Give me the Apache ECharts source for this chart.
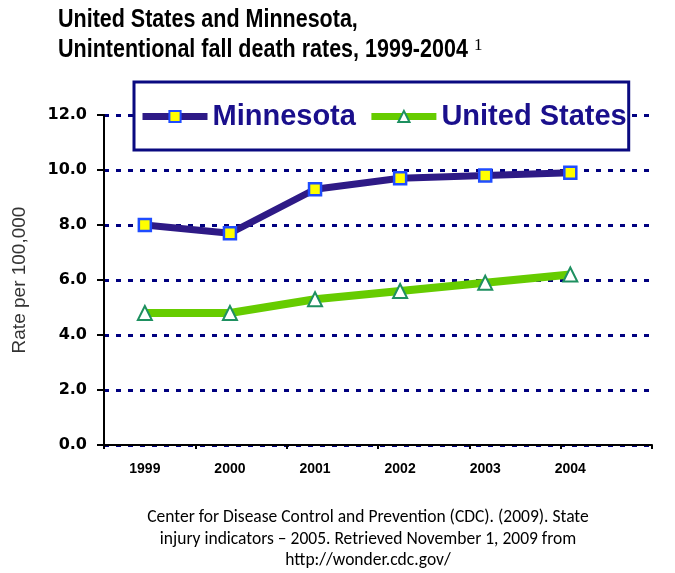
<!DOCTYPE html>
<html><head><meta charset="utf-8">
<script src="https://cdn.jsdelivr.net/npm/echarts@6/dist/echarts.min.js"></script>
<style>html,body{margin:0;padding:0;background:#fff}#c{width:675px;height:573px}</style>
</head><body><div id="c"></div>
<script>
var years = ['1999', '2000', '2001', '2002', '2003', '2004'];
var minnesota = [8.0, 7.7, 9.3, 9.7, 9.8, 9.9];
var unitedStates = [4.8, 4.8, 5.3, 5.6, 5.9, 6.2];
var titleLines = ['United States and Minnesota,', 'Unintentional fall death rates, 1999-2004'];
var footnote = 'Center for Disease Control and Prevention (CDC). (2009). State\ninjury indicators \u2013 2005. Retrieved November 1, 2009 from\nhttp://wonder.cdc.gov/';

var chart = echarts.init(document.getElementById('c'));
var titleFont = "bold 25px 'Liberation Sans', Arial, sans-serif";
chart.setOption({
  animation: false,
  backgroundColor: '#fff',
  graphic: [
    { type: 'text', x: 58, y: 8, scaleX: 0.86, z: 10,
      style: { text: titleLines[0], font: titleFont, fill: '#000', verticalAlign: 'top' } },
    { type: 'text', x: 58, y: 38, scaleX: 0.86, z: 10,
      style: { text: titleLines[1], font: titleFont, fill: '#000', verticalAlign: 'top' } },
    { type: 'text', x: 474, y: 37, z: 10,
      style: { text: '1', font: "17px 'Liberation Serif', serif", fill: '#000', verticalAlign: 'top' } }
  ],
  title: [{
    text: footnote,
    left: 363, top: 502, textAlign: 'center',
    textStyle: { fontFamily: "Carlito,Lato,sans-serif", fontWeight: 'normal', fontSize: 17.5, lineHeight: 21.5, color: '#000' }
  }],
  legend: {
    left: 134, top: 82,
    padding: [20, 2, 19, 5],
    backgroundColor: '#fff',
    borderColor: '#0a0a80', borderWidth: 3, borderRadius: 0,
    itemWidth: 65, itemHeight: 14, itemGap: 12,
    textStyle: { fontFamily: 'Liberation Sans, Arial, sans-serif', fontWeight: 'bold', fontSize: 29, color: '#1a0f8c' },
    data: [
      { name: 'Minnesota', lineStyle: { width: 7 } },
      { name: 'United States', lineStyle: { width: 7 } }
    ]
  },
  grid: { left: 104, right: 23, top: 115, bottom: 128, containLabel: false },
  xAxis: [{
    type: 'category', data: years, boundaryGap: true, position: 'bottom',
    axisLine: { show: true, lineStyle: { color: '#000', width: 2 } },
    axisTick: { show: true, length: 4, lineStyle: { color: '#000', width: 2 } },
    axisLabel: { show: false },
    splitLine: { show: false }
  }, {
    type: 'value', min: -0.48, max: 5.96, position: 'bottom',
    axisLine: { show: false }, axisTick: { show: false }, splitLine: { show: false },
    axisLabel: {
      show: true, customValues: [0, 1, 2, 3, 4, 5], margin: 17,
      formatter: function (v) { return years[Math.round(v)]; },
      fontFamily: 'Liberation Sans, Arial, sans-serif', fontWeight: 'bold', fontSize: 14, color: '#000'
    }
  }],
  yAxis: {
    type: 'value', min: 0, max: 12, interval: 2,
    name: 'Rate per 100,000', nameLocation: 'middle', nameGap: 75,
    nameTextStyle: { fontFamily: 'Liberation Sans, Arial, sans-serif', fontSize: 19, color: '#333' },
    axisLine: { show: true, onZero: false, lineStyle: { color: '#000', width: 2 } },
    axisTick: { show: true, length: 7, lineStyle: { color: '#000', width: 2 } },
    axisLabel: {
      margin: 17, formatter: function (v) { return v.toFixed(1); },
      fontFamily: 'DejaVu Sans, sans-serif', fontWeight: 'bold', fontSize: 16, color: '#000'
    },
    splitLine: { show: true, lineStyle: { color: '#000080', width: 3, type: [5, 7] } }
  },
  series: [{
    name: 'Minnesota', type: 'line', xAxisIndex: 1,
    data: minnesota.map(function (v, i) { return [i, v]; }),
    symbol: 'rect', symbolSize: 12,
    lineStyle: { color: '#2e1a86', width: 7 },
    itemStyle: { color: '#ffff00', borderColor: '#1f4cff', borderWidth: 2.5 },
    z: 3
  }, {
    name: 'United States', type: 'line', xAxisIndex: 1,
    data: unitedStates.map(function (v, i) { return [i, v]; }),
    symbol: 'triangle', symbolSize: 14,
    lineStyle: { color: '#66cc00', width: 8 },
    itemStyle: { color: '#ffffff', borderColor: '#1e9060', borderWidth: 2 },
    z: 2
  }]
});
</script></body></html>
